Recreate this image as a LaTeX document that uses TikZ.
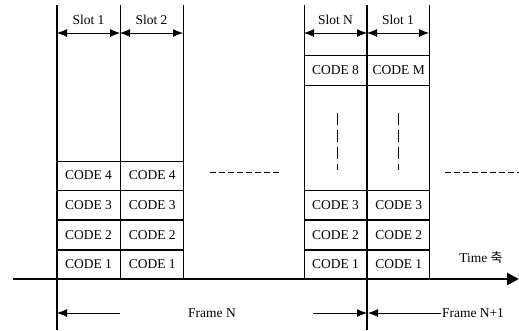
\documentclass[tikz,border=0pt]{standalone}
\usepackage{fontspec}
\setmainfont{Liberation Serif}
\newfontfamily\krfont{Noto Sans CJK KR}
\usetikzlibrary{positioning,arrows.meta,calc}

\begin{document}
\begin{tikzpicture}[
  x=1pt, y=-1pt,
  font=\fontsize{13.5}{15}\selectfont,
  cell/.style={draw, line width=0.7pt, minimum width=63pt, minimum height=29pt,
               inner sep=0pt},
  slotline/.style={line width=0.8pt},
  frameline/.style={line width=2.6pt},
  dim/.style={{Latex[length=10pt,width=8pt]}-{Latex[length=10pt,width=8pt]},
              line width=0.8pt},
  arr/.style={-{Latex[length=10pt,width=8pt]}, line width=0.8pt},
  gap/.style={dashed, dash pattern=on 6pt off 3pt, line width=0.7pt},
  vgap/.style={dashed, dash pattern=on 12pt off 5pt, line width=0.7pt},
]
\useasboundingbox (0,0) rectangle (519,330);

% slot boundaries
\foreach \x in {120,183,304,429}
  \draw[slotline] (\x,5) -- (\x,279);
\foreach \x in {57,367}
  \draw[frameline] (\x,5) -- (\x,330);

% frame N
\node[cell] (a1) at (88.5,264.5) {CODE 1};
\node[cell, above=0pt of a1] (a2) {CODE 2};
\node[cell, above=0pt of a2] (a3) {CODE 3};
\node[cell, above=0pt of a3] (a4) {CODE 4};
\node[cell, right=0pt of a1] (b1) {CODE 1};
\node[cell, above=0pt of b1] (b2) {CODE 2};
\node[cell, above=0pt of b2] (b3) {CODE 3};
\node[cell, above=0pt of b3] (b4) {CODE 4};

% slot N and next frame
\node[cell] (c1) at (335.5,264.5) {CODE 1};
\node[cell, above=0pt of c1] (c2) {CODE 2};
\node[cell, above=0pt of c2] (c3) {CODE 3};
\node[cell, minimum height=30pt] (c8) at (335.5,70) {CODE 8};
\node[cell, minimum width=62pt, right=0pt of c1] (d1) {CODE 1};
\node[cell, minimum width=62pt, above=0pt of d1] (d2) {CODE 2};
\node[cell, minimum width=62pt, above=0pt of d2] (d3) {CODE 3};
\node[cell, minimum width=62pt, minimum height=30pt, right=0pt of c8] (dm) {CODE M};

\draw[vgap] (c8.south) ++(1.5,28) coordinate (v1) -- ++(0,57) coordinate (v2);
\draw[vgap] (dm.south) ++(0,28) coordinate (w1) -- ++(0,57) coordinate (w2);

% slot widths
\node (s1) at (88.5,20) {Slot 1};
\node (s2) at (151.5,20) {Slot 2};
\node (sn) at (335.5,20) {Slot N};
\node (sm) at (398,20) {Slot 1};
\coordinate (p0) at (57,33);
\coordinate (p1) at (120,33);
\coordinate (p2) at (183,33);
\coordinate (q0) at (304,33);
\coordinate (q1) at (367,33);
\coordinate (q2) at (429,33);
\draw[dim] (p0) -- (p1);
\draw[dim] (p1) -- (p2);
\draw[dim] (q0) -- (q1);
\draw[dim] (q1) -- (q2);

% skipped slots
\coordinate (g1) at (210,172);
\coordinate (g2) at (279,172);
\coordinate (h1) at (445,172);
\coordinate (h2) at (519,172);
\draw[gap] (g1) -- (g2);
\draw[gap] (h1) -- (h2);

% time axis
\coordinate (t0) at (13,279);
\coordinate (t1) at (519,279);
\draw[frameline, -{Triangle[length=12pt,width=12pt]}] (t0) -- (t1);
\node (time) at (481,258) {Time {\krfont\fontsize{13}{15}\selectfont 축}};

% frame lengths
\node (fn) at (212,313) {Frame N};
\node[inner sep=1pt] (fm) at (473,313) {Frame N+1};
\coordinate (f0) at (57,313);
\coordinate (f1) at (120,313);
\coordinate (f2) at (313,313);
\coordinate (f3) at (367,313);
\coordinate (f4) at (368,313);
\draw[arr] (f1) -- (f0);
\draw[arr] (f2) -- (f3);
\draw[arr] (fm.west) -- (f4);

\end{tikzpicture}
\end{document}
